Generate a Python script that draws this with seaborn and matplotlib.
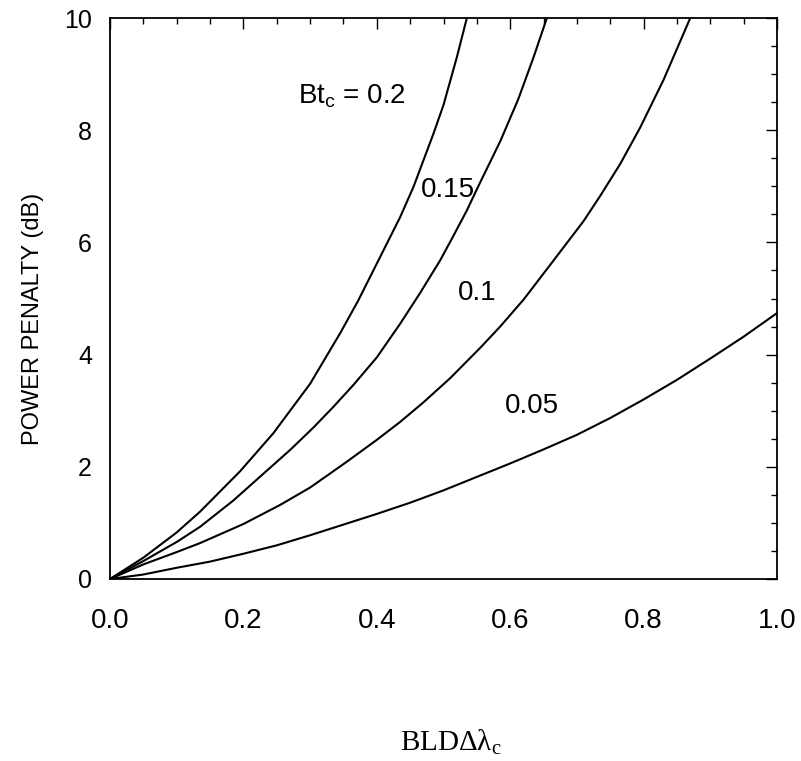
import numpy as np
import pandas as pd
import matplotlib
matplotlib.use("Agg")
import matplotlib.pyplot as plt
import seaborn as sns
from matplotlib.ticker import MultipleLocator, FormatStrFormatter

# ---- data ----
x_02 = [0, 0.05, 0.1, 0.135, 0.195, 0.245, 0.3, 0.345, 0.372, 0.405, 0.435, 0.455,
        0.485, 0.5, 0.52, 0.535]
y_02 = [0, 0.38, 0.83, 1.2, 1.92, 2.6, 3.48, 4.38, 4.96, 5.74, 6.45, 6.99,
        7.94, 8.45, 9.3, 10.0]

x_015 = [0, 0.05, 0.1, 0.135, 0.185, 0.235, 0.27, 0.305, 0.335, 0.365, 0.4, 0.435,
         0.465, 0.495, 0.515, 0.535, 0.555, 0.585, 0.612, 0.635, 0.655]
y_015 = [0, 0.32, 0.66, 0.93, 1.4, 1.93, 2.3, 2.7, 3.07, 3.46, 3.95, 4.55,
         5.1, 5.68, 6.12, 6.57, 7.07, 7.8, 8.55, 9.3, 10.0]

x_01 = [0, 0.05, 0.1, 0.135, 0.2, 0.255, 0.3, 0.355, 0.4, 0.435, 0.47, 0.51, 0.555,
        0.585, 0.62, 0.66, 0.71, 0.735, 0.765, 0.795, 0.83, 0.87]
y_01 = [0, 0.26, 0.48, 0.64, 0.98, 1.32, 1.63, 2.09, 2.48, 2.8, 3.15, 3.58, 4.12,
        4.5, 4.98, 5.6, 6.38, 6.83, 7.4, 8.05, 8.9, 10.0]

x_005 = [0, 0.05, 0.1, 0.15, 0.2, 0.25, 0.3, 0.35, 0.4, 0.45, 0.5, 0.55, 0.6,
         0.65, 0.7, 0.75, 0.8, 0.85, 0.9, 0.95, 1.0]
y_005 = [0, 0.08, 0.2, 0.31, 0.45, 0.6, 0.78, 0.97, 1.16, 1.36, 1.58, 1.82, 2.06,
         2.31, 2.57, 2.87, 3.2, 3.55, 3.93, 4.32, 4.74]

curve_labels = ["Bt$_\\mathregular{c}$ = 0.2", "0.15", "0.1", "0.05"]
label_x = [0.363, 0.506, 0.551, 0.633]
label_y = [8.6, 6.93, 5.09, 3.09]

x_ticks = [0.0, 0.2, 0.4, 0.6, 0.8, 1.0]
y_ticks = [0, 2, 4, 6, 8, 10]

# ---- styling ----
sns.set_style("white")
plt.rcParams["font.family"] = ["Liberation Sans", "DejaVu Sans"]
plt.rcParams["mathtext.fontset"] = "custom"
plt.rcParams["mathtext.rm"] = "Liberation Sans"
for k in ["text.color", "axes.labelcolor", "xtick.color", "ytick.color", "axes.edgecolor"]:
    plt.rcParams[k] = "black"

fig = plt.figure(figsize=(8.01, 7.61), dpi=100)
ax = fig.add_axes([110 / 801, (761 - 579) / 761, 667 / 801, 561 / 761])

series = [(x_02, y_02), (x_015, y_015), (x_01, y_01), (x_005, y_005)]
frames = []
for name, (xs, ys) in zip(curve_labels, series):
    frames.append(pd.DataFrame({"x": xs, "y": ys, "curve": name}))
df = pd.concat(frames, ignore_index=True)

sns.lineplot(data=df, x="x", y="y", units="curve", estimator=None, sort=False,
             color="black", linewidth=1.5, ax=ax, legend=False,
             solid_joinstyle="round")

for t, tx, ty in zip(curve_labels, label_x, label_y):
    ax.text(tx, ty, t, fontsize=20, ha="center", va="center", color="black")

ax.set_xlim(0, 1.0)
ax.set_ylim(0, 10)
ax.set_xticks(x_ticks)
ax.set_yticks(y_ticks)
ax.xaxis.set_major_formatter(FormatStrFormatter("%.1f"))
ax.xaxis.set_minor_locator(MultipleLocator(0.05))
ax.yaxis.set_minor_locator(MultipleLocator(0.5))

ax.tick_params(which="both", direction="in", top=True, right=True, color="black", width=1.0)
ax.tick_params(which="major", length=8)
ax.tick_params(which="minor", length=4)
ax.tick_params(axis="x", which="major", labelsize=20, pad=21)
ax.tick_params(axis="y", which="major", labelsize=18, pad=13)

for s in ax.spines.values():
    s.set_color("black")
    s.set_linewidth(1.3)

ax.set_ylabel("POWER PENALTY (dB)", fontsize=17, va="center")
ax.yaxis.set_label_coords(-0.115, 0.463)
ax.set_xlabel("BLD\u0394\u03bb$_\\mathregular{c}$", fontsize=21, family="Liberation Serif",
              va="baseline")
ax.xaxis.set_label_coords(0.511, -0.305)

fig.savefig("out.png", dpi=100)
